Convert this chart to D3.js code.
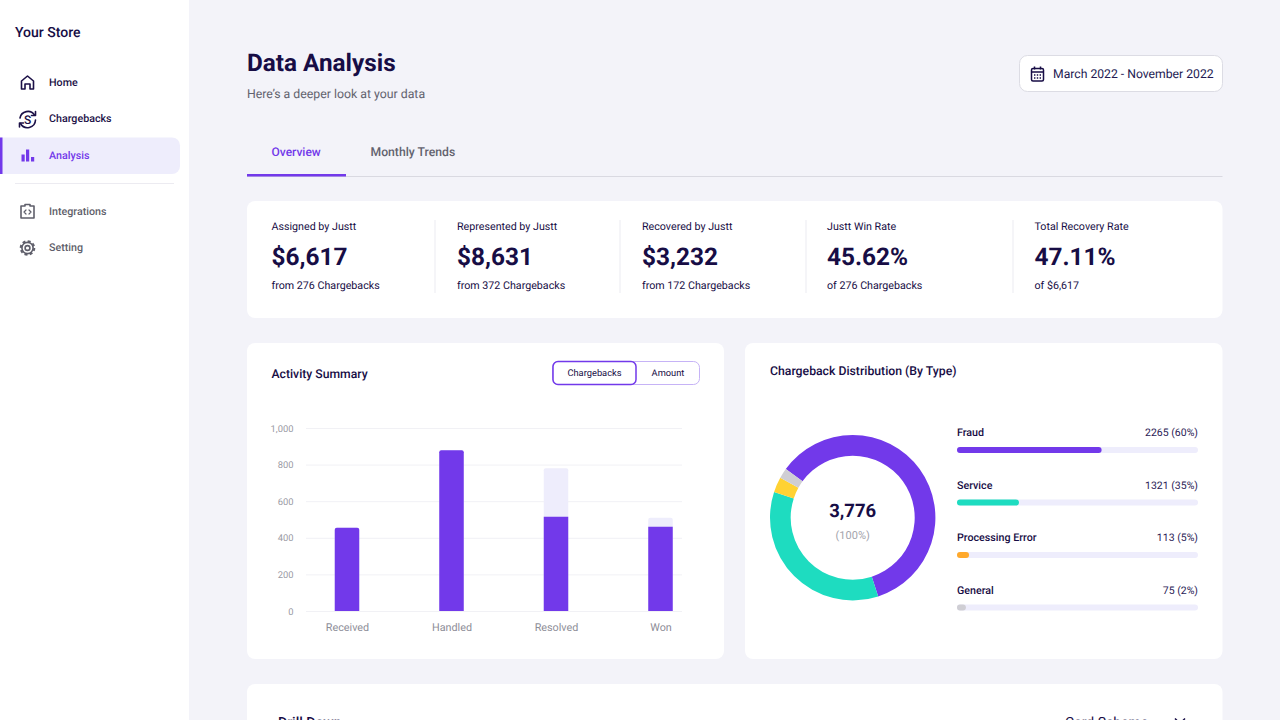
<!DOCTYPE html>
<html>
<head>
<meta charset="utf-8">
<script src="https://cdn.jsdelivr.net/npm/d3@7"></script>
<style>
  html, body { margin: 0; padding: 0; background: #f3f3f9; overflow: hidden; }
  svg text { font-family: Roboto, sans-serif; text-rendering: geometricPrecision; }
  .domain { display: none; }
</style>
</head>
<body>
<div id="viz-container"></div>
<script>
// chart data
let activityCategories = ["Received", "Handled", "Resolved", "Won"];
let activitySolid = [455, 878, 515, 460];
let activityTotal = [455, 878, 780, 510];
let activityTicks = [0, 200, 400, 600, 800, 1000];

let typeNames = ["Fraud", "Service", "Processing Error", "General"];
let typeCounts = [2265, 1321, 113, 75];
let typeLabels = ["2265 (60%)", "1321 (35%)", "113 (5%)", "75 (2%)"];
let typeBarShare = [60, 25.7, 5, 3.7];
let typeBarColors = ["#7239ea", "#1edcc0", "#ffa92b", "#cfced4"];
let typeDonutColors = ["#7239ea", "#1edcc0", "#ffd233", "#cfced4"];

let kpiLabels = ["Assigned by Justt", "Represented by Justt", "Recovered by Justt", "Justt Win Rate", "Total Recovery Rate"];
let kpiValues = ["$6,617", "$8,631", "$3,232", "45.62%", "47.11%"];
let kpiNotes = ["from 276 Chargebacks", "from 372 Chargebacks", "from 172 Chargebacks", "of 276 Chargebacks", "of $6,617"];
let kpiX = [271.5, 457, 642, 827, 1034.5];
let kpiDividers = [435, 620, 806, 1013];

let navLabels = ["Home", "Chargebacks", "Analysis", "Integrations", "Setting"];
let navY = [82, 118.5, 155.5, 211, 247.5];
let navColors = ["#1c1147", "#1c1147", "#7239ea", "#5f5f6b", "#5f5f6b"];

let dark = "#170d45";
let purple = "#7239ea";
let lilac = "#eeedfc";

let viz = d3.select("#viz-container")
                .append("svg")
                    .attr("width", 1280)
                    .attr("height", 720)
                    .style("display", "block")
                    .style("background-color", "#f3f3f9")
;

function addText(parent, str, x, y, size, weight, color, anchor){
    return parent.append("text")
                .text(str)
                .attr("x", x)
                .attr("y", y)
                .attr("font-size", size)
                .attr("font-weight", weight)
                .attr("fill", color)
                .attr("text-anchor", anchor || "start")
    ;
}

function addCard(x, y, w, h){
    viz.append("rect")
        .attr("x", x).attr("y", y)
        .attr("width", w).attr("height", h)
        .attr("rx", 8)
        .attr("fill", "white")
    ;
}

// sidebar
viz.append("rect").attr("width", 189).attr("height", 720).attr("fill", "white");
addText(viz, "Your Store", 15, 36.5, 14, 500, dark);
viz.append("path")
    .attr("d", "M0 137.5H172a8 8 0 0 1 8 8V166a8 8 0 0 1-8 8H0Z")
    .attr("fill", lilac)
;
viz.append("rect").attr("x", 0).attr("y", 137.5).attr("width", 2.5).attr("height", 36.5).attr("fill", purple);
viz.append("rect").attr("x", 15).attr("y", 183).attr("width", 159).attr("height", 1).attr("fill", "#ecebf1");

viz.selectAll(".navLabel").data(navLabels).enter().append("text")
    .attr("class", "navLabel")
    .text(d => d)
    .attr("x", 49)
    .attr("y", (d, i) => navY[i] + 3.7)
    .attr("font-size", 10.7)
    .attr("font-weight", 500)
    .attr("fill", (d, i) => navColors[i])
;

// nav icons, each drawn around its own centre
function navIcon(i, x){
    return viz.append("g").attr("transform", "translate(" + x + "," + (navY[i] + 0.5) + ")")
                .attr("fill", "none")
                .attr("stroke", navColors[i])
                .attr("stroke-width", 1.6)
                .attr("stroke-linejoin", "round")
                .attr("stroke-linecap", "round")
    ;
}
navIcon(0, 27.5).append("path").attr("d", "M-6 6.5V-1.5L0-6.5L6-1.5V6.5H2.5V1.5H-2.5V6.5Z");

let chargeIcon = navIcon(1, 27.5);
chargeIcon.append("path").attr("d", "M-7.5 -1A8 8 0 0 1 7 -4");
chargeIcon.append("path").attr("d", "M8 1A8 8 0 0 1 -7 4.5");
chargeIcon.append("path").attr("d", "M8-7.5V-3.5H4M-8 8V4H-4");
addText(chargeIcon, "S", 0, 4.5, 12, 500, navColors[1], "middle").attr("stroke", "none");

let barsIcon = viz.append("g").attr("fill", purple);
[[21.5, 7], [26, 12], [31, 4.5]].forEach(function(b){
    barsIcon.append("rect").attr("x", b[0]).attr("y", 161.5 - b[1]).attr("width", 3.2).attr("height", b[1]);
});

let intIcon = navIcon(3, 27.5);
intIcon.append("path").attr("d", "M-6.5-5.5H-2.5V-7H2.5V-5.5H6.5V6.5H-6.5Z");
intIcon.append("path").attr("d", "M-1.5-1.5L-3.5 0.5L-1.5 2.5M1.5-1.5L3.5 0.5L1.5 2.5").attr("stroke-width", 1.2);

let gearIcon = navIcon(4, 27.5);
gearIcon.append("circle").attr("r", 2.4);
gearIcon.append("circle").attr("r", 5.6);
gearIcon.append("circle").attr("r", 6.8).attr("stroke-dasharray", "3 2.34").attr("stroke-width", 2).attr("stroke-linecap", "butt");

// header
addText(viz, "Data Analysis", 247, 71, 24.3, 700, dark);
addText(viz, "Here\u2019s a deeper look at your data", 247, 98, 12.3, 400, "#62626e");

viz.append("rect")
    .attr("x", 1019.5).attr("y", 55.5)
    .attr("width", 203).attr("height", 36)
    .attr("rx", 8)
    .attr("fill", "white")
    .attr("stroke", "#dcdce4")
;
addText(viz, "March 2022 - November 2022", 1053, 78, 12.2, 400, "#231a52");
let calIcon = viz.append("g").attr("transform", "translate(1037.5,74)").attr("fill", "none").attr("stroke", dark).attr("stroke-width", 1.5);
calIcon.append("rect").attr("x", -6).attr("y", -5.5).attr("width", 12).attr("height", 12.5).attr("rx", 1.5);
calIcon.append("path").attr("d", "M-6-2H6M-3-7.5V-4.5M3-7.5V-4.5");
calIcon.append("path").attr("d", "M-3.5 1H3.5M-3.5 4H3.5").attr("stroke-width", 1.4).attr("stroke-dasharray", "1.4 1.4");

// tabs
addText(viz, "Overview", 271.5, 156, 12, 500, purple);
addText(viz, "Monthly Trends", 370.5, 156, 12.2, 500, "#62626e");
viz.append("rect").attr("x", 247).attr("y", 176).attr("width", 975.5).attr("height", 1).attr("fill", "#d9d9e1");
viz.append("rect").attr("x", 247).attr("y", 174).attr("width", 99).attr("height", 2.5).attr("fill", purple);

// kpi card
addCard(247, 201, 975.5, 117);
let kpis = viz.selectAll(".kpi").data(kpiLabels).enter().append("g").attr("class", "kpi");
kpis.append("text").text(d => d)
    .attr("x", (d, i) => kpiX[i]).attr("y", 230)
    .attr("font-size", 10.7).attr("fill", dark)
;
kpis.append("text").text((d, i) => kpiValues[i])
    .attr("x", (d, i) => kpiX[i]).attr("y", 264.5)
    .attr("font-size", 24.4).attr("font-weight", 700).attr("fill", dark)
;
kpis.append("text").text((d, i) => kpiNotes[i])
    .attr("x", (d, i) => kpiX[i]).attr("y", 289)
    .attr("font-size", 10.7).attr("fill", dark)
;
viz.selectAll(".kpiDivider").data(kpiDividers).enter().append("rect")
    .attr("class", "kpiDivider")
    .attr("x", d => d - 0.5).attr("y", 220)
    .attr("width", 1).attr("height", 73)
    .attr("fill", "#ecebf1")
;

// activity summary card
addCard(247, 343, 477, 316);
addText(viz, "Activity Summary", 271.5, 377.5, 12.2, 500, dark);

viz.append("rect")
    .attr("x", 552.5).attr("y", 361.5)
    .attr("width", 147).attr("height", 23)
    .attr("rx", 6)
    .attr("fill", "white")
    .attr("stroke", "#c6b3f6")
;
viz.append("rect")
    .attr("x", 553).attr("y", 361.5)
    .attr("width", 83).attr("height", 23)
    .attr("rx", 5)
    .attr("fill", "white")
    .attr("stroke", purple)
    .attr("stroke-width", 1.5)
;
addText(viz, "Chargebacks", 594.5, 376, 9.3, 400, dark, "middle");
addText(viz, "Amount", 668, 376, 9.3, 400, dark, "middle");

let yScale = d3.scaleLinear().domain([0, 1000]).range([611, 428]);
let xScale = d3.scalePoint().domain(activityCategories).range([347, 660.5]);
let barWidth = 24.5;

let yAxis = d3.axisLeft(yScale)
                .tickValues(activityTicks)
                .tickSize(-376)
                .tickPadding(12.5)
                .tickFormat(d3.format(","))
;
let yAxisGroup = viz.append("g")
                    .attr("transform", "translate(306,0)")
                    .call(yAxis)
;
yAxisGroup.selectAll("line").attr("stroke", "#f1f1f5");
yAxisGroup.selectAll("text")
    .attr("font-size", 9.4)
    .attr("fill", "#9a9aa4")
;

let xAxis = d3.axisBottom(xScale).tickSize(0).tickPadding(12.5);
let xAxisGroup = viz.append("g")
                    .attr("transform", "translate(0,611)")
                    .call(xAxis)
;
xAxisGroup.selectAll("text")
    .attr("font-size", 10.8)
    .attr("fill", "#8d8d97")
;

function topBar(x, y, w, h, r){
    return "M" + x + " " + (y + h) + "V" + (y + r)
         + "a" + r + " " + r + " 0 0 1 " + r + " " + (-r)
         + "H" + (x + w - r)
         + "a" + r + " " + r + " 0 0 1 " + r + " " + r
         + "V" + (y + h) + "Z";
}

viz.selectAll(".totalBar").data(activityCategories).enter().append("path")
    .attr("class", "totalBar")
    .attr("d", (d, i) => topBar(xScale(d) - barWidth / 2, yScale(activityTotal[i]), barWidth, yScale(0) - yScale(activityTotal[i]), 2))
    .attr("fill", lilac)
;
viz.selectAll(".solidBar").data(activityCategories).enter().append("path")
    .attr("class", "solidBar")
    .attr("d", function(d, i){
        // only the bars without a lighter cap get round corners
        let r = activitySolid[i] == activityTotal[i] ? 2 : 0;
        return topBar(xScale(d) - barWidth / 2, yScale(activitySolid[i]), barWidth, yScale(0) - yScale(activitySolid[i]), r);
    })
    .attr("fill", purple)
;

// distribution card
addCard(745, 343, 477.5, 316);
addText(viz, "Chargeback Distribution (By Type)", 770, 374.5, 12.25, 500, dark);

let pie = d3.pie()
            .sort(null)
            .startAngle(-54 * Math.PI / 180)
            .endAngle(306 * Math.PI / 180)
;
let arc = d3.arc().innerRadius(62).outerRadius(82.7);

let donut = viz.append("g").attr("transform", "translate(852.7,517.7)");
donut.selectAll(".slice").data(pie(typeCounts)).enter().append("path")
    .attr("class", "slice")
    .attr("d", arc)
    .attr("fill", (d, i) => typeDonutColors[i])
;
addText(donut, "3,776", 0, -1, 18.5, 700, dark, "middle");
addText(donut, "(100%)", 0, 21.5, 11, 400, "#a3a3ac", "middle");

let barScale = d3.scaleLinear().domain([0, 100]).range([0, 241]);
let rowScale = d3.scalePoint().domain(typeNames).range([450, 607.5]);

let rows = viz.selectAll(".typeRow").data(typeNames).enter().append("g")
                .attr("class", "typeRow")
                .attr("transform", d => "translate(957," + rowScale(d) + ")")
;
rows.append("text").text(d => d)
    .attr("x", 0).attr("y", -14)
    .attr("font-size", 10.7).attr("font-weight", 500).attr("fill", dark)
;
rows.append("text").text((d, i) => typeLabels[i])
    .attr("x", 241).attr("y", -14)
    .attr("text-anchor", "end")
    .attr("font-size", 10.5).attr("fill", "#2b2256")
;
rows.append("rect")
    .attr("y", -3).attr("width", barScale(100)).attr("height", 6)
    .attr("rx", 3)
    .attr("fill", lilac)
;
rows.append("rect")
    .attr("y", -3).attr("width", (d, i) => barScale(typeBarShare[i])).attr("height", 6)
    .attr("rx", 3)
    .attr("fill", (d, i) => typeBarColors[i])
;

// bottom card, cut off by the window
addCard(247, 684, 975.5, 80);
addText(viz, "Drill Down", 278, 727, 14, 500, dark);
addText(viz, "Card Scheme", 1065, 727, 14, 400, dark);
viz.append("path")
    .attr("d", "M1175 718.5L1180 723.5L1185 718.5")
    .attr("fill", "none")
    .attr("stroke", dark)
    .attr("stroke-width", 1.5)
;
</script>
</body>
</html>
